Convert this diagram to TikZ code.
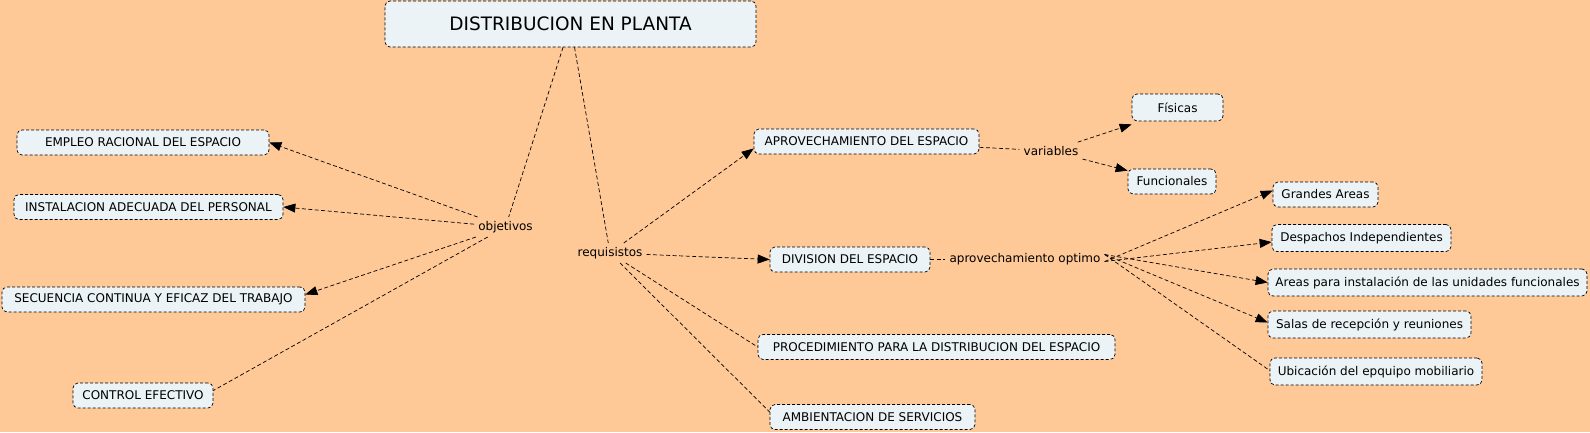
\documentclass[tikz,border=0pt]{standalone}
\usepackage{fontspec}
\setmainfont{DejaVu Sans}
\usetikzlibrary{arrows.meta}
\definecolor{bg}{RGB}{254,200,151}
\definecolor{boxfill}{RGB}{235,243,246}
\begin{document}
\begin{tikzpicture}[x=1pt,y=-1pt,
  box/.style={draw, dash pattern=on 3pt off 2pt, line width=0.7pt, rounded corners=5pt, fill=boxfill, minimum height=25pt, inner sep=0pt, font=\fontsize{12}{14}\selectfont},
  lbox/.style={box, minimum height=27pt},
  lbl/.style={inner sep=4pt, font=\fontsize{12}{14}\selectfont},
  conn/.style={draw, dash pattern=on 4pt off 2.5pt, line width=0.7pt},
  arr/.style={conn, -{Triangle[length=12pt,width=9pt]}}]
\fill[bg] (0,0) rectangle (1590,432);
\useasboundingbox (0,0) rectangle (1590,432);
% nodes
\node[box, minimum width=371pt, minimum height=46pt, font=\fontsize{18.5}{22}\selectfont] (title) at (570.5,24) {DISTRIBUCION EN PLANTA};
\node[box, minimum width=252pt] (emp) at (143,142.5) {EMPLEO RACIONAL DEL ESPACIO};
\node[box, minimum width=269pt] (ins) at (148.5,207) {INSTALACION ADECUADA DEL PERSONAL};
\node[box, minimum width=303pt] (sec) at (153.5,299.5) {SECUENCIA CONTINUA Y EFICAZ DEL TRABAJO};
\node[box, minimum width=140pt] (con) at (143,395.5) {CONTROL EFECTIVO};
\node[box, minimum width=225pt] (apr) at (866.5,141.5) {APROVECHAMIENTO DEL ESPACIO};
\node[box, minimum width=160pt] (div) at (850,259.5) {DIVISION DEL ESPACIO};
\node[box, minimum width=357pt] (pro) at (936.5,347) {PROCEDIMIENTO PARA LA DISTRIBUCION DEL ESPACIO};
\node[box, minimum width=205pt] (amb) at (872.5,417) {AMBIENTACION DE SERVICIOS};
\node[lbox, minimum width=91pt] (fis) at (1177.5,107.5) {Físicas};
\node[box, minimum width=88pt] (fun) at (1172,181.5) {Funcionales};
\node[box, minimum width=105pt] (gra) at (1325.5,194.5) {Grandes Areas};
\node[lbox, minimum width=179pt] (des) at (1361.5,238) {Despachos Independientes};
\node[lbox, minimum width=319pt] (are) at (1427.5,282.5) {Areas para instalación de las unidades funcionales};
\node[lbox, minimum width=203pt] (sal) at (1369.5,324.5) {Salas de recepción y reuniones};
\node[lbox, minimum width=212pt] (ubi) at (1376,371.5) {Ubicación del epquipo mobiliario};
% labels
\node[lbl] (obj) at (505.5,227) {objetivos};
\node[lbl] (req) at (610,253) {requisistos};
\node[lbl] (var) at (1051,151) {variables};
\node[lbl] (opt) at (1025,259.5) {aprovechamiento optimo};
\coordinate (optA) at ([yshift=-2pt]opt.east);
\coordinate (optB) at ([yshift=5pt]opt.east);
% connectors
\draw[conn] (title) -- (obj);
\draw[conn] (title) -- (req);
\draw[arr] (obj) -- (emp.east);
\draw[arr] (obj) -- (ins.east);
\draw[arr] (obj) -- ([yshift=5pt]sec.east);
\draw[conn] (obj) -- ([yshift=5pt]con.east);
\draw[arr] (req) -- ([yshift=-7pt]apr.west);
\draw[arr] (req) -- (div.west);
\draw[conn] (req) -- (pro.west);
\draw[conn] (req) -- ([yshift=5pt]amb.west);
\draw[conn] (apr) -- (var);
\draw[arr] (var) -- ([yshift=-3pt]fis.south west);
\draw[arr] (var) -- ([yshift=-2pt]fun.north west);
\draw[conn] (div) -- (opt);
\draw[arr] (optA) -- ([yshift=4pt]gra.west);
\draw[arr] (optA) -- ([yshift=-4pt]des.west);
\draw[arr] (optB) -- (are.west);
\draw[arr] (optB) -- ([yshift=2pt]sal.west);
\draw[conn] (optB) -- ([yshift=1pt]ubi.west);
\end{tikzpicture}
\end{document}
